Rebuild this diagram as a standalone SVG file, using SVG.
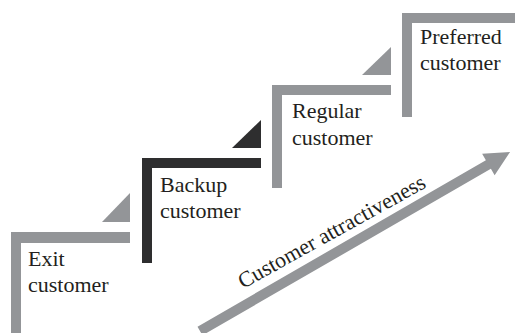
<svg xmlns="http://www.w3.org/2000/svg" width="515" height="333" viewBox="0 0 515 333">
  <style>
    .grey { fill: #939598; }
    .dark { fill: #2e2e2f; }
    .lbl { font-family: "Liberation Serif", "Times New Roman", serif; font-size: 22px; fill: #231f20; }
  </style>
  <rect width="515" height="333" fill="#ffffff"/>

  <!-- Step 1: exit -->
  <g id="exit">
    <path class="grey" d="M11 232 H130 V243 H21 V333 H11 Z"/>
    <polygon class="grey" points="130,193 130,222 102,222"/>
    <text class="lbl" x="28" y="266">Exit</text>
    <text class="lbl" x="28" y="292">customer</text>
  </g>

  <!-- Step 2: backup -->
  <g id="backup">
    <path class="dark" d="M142 158 H261 V168 H152 V263 H142 Z"/>
    <polygon class="dark" points="261,120 261,148 232,148"/>
    <text class="lbl" x="160" y="192">Backup</text>
    <text class="lbl" x="160" y="218">customer</text>
  </g>

  <!-- Step 3: regular -->
  <g id="regular">
    <path class="grey" d="M272 85 H391 V95 H282 V188 H272 Z"/>
    <polygon class="grey" points="391,47 391,75 362,75"/>
    <text class="lbl" x="292" y="118">Regular</text>
    <text class="lbl" x="292" y="145">customer</text>
  </g>

  <!-- Step 4: preferred -->
  <g id="preferred">
    <path class="grey" d="M402 13 H515 V23 H412 V117 H402 Z"/>
    <text class="lbl" x="420" y="44">Preferred</text>
    <text class="lbl" x="420" y="70">customer</text>
  </g>

  <!-- Rising arrow -->
  <g id="connectors">
    <g transform="translate(200 331) rotate(-30)">
      <polygon class="grey" points="0,-5 333,-5 333,-12.5 358,0 333,12.5 333,5 0,5"/>
    </g>
    <text class="lbl" transform="translate(243 289) rotate(-29)">Customer attractiveness</text>
  </g>
</svg>
